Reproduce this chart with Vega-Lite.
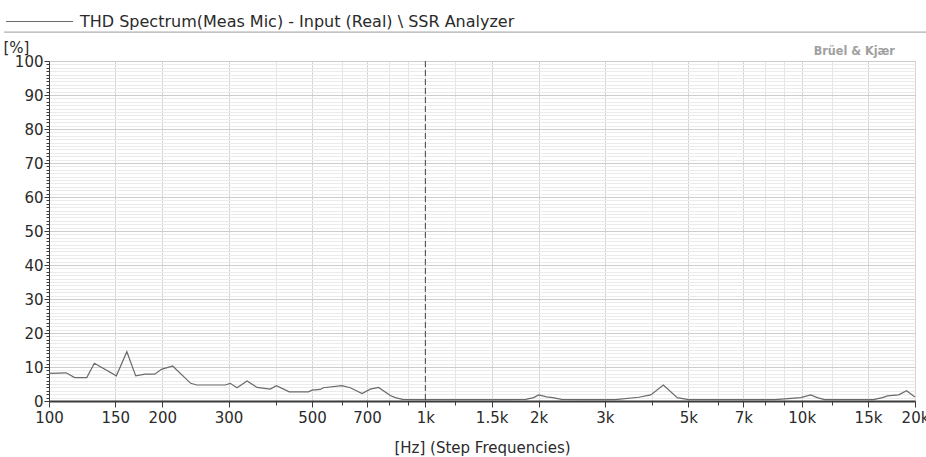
{
  "$schema": "https://vega.github.io/schema/vega-lite/v6.json",
  "width": 866,
  "height": 340,
  "autosize": "none",
  "padding": {"left": 49, "top": 61, "right": 11, "bottom": 56},
  "background": "white",
  "config": {
    "font": "DejaVu Sans",
    "view": {"stroke": "#c4c4c4", "strokeWidth": 1},
    "axis": {"labelFont": "DejaVu Sans", "titleFont": "DejaVu Sans", "labelColor": "#2a2a2a", "titleColor": "#2a2a2a", "labelFontSize": 15, "titleFontSize": 15, "titleFontWeight": "normal", "tickColor": "#3a3a3a", "domainColor": "#3a3a3a"}
  },
  "title": {"text": "Brüel & Kjær", "anchor": "end", "fontSize": 12.5, "fontWeight": "bold", "color": "#a0a0a0", "offset": -70, "dx": -34, "font": "DejaVu Sans Condensed"},
  "datasets": {
    "thd": [
      {"f": 100, "v": 8.1}, {"f": 111, "v": 8.3}, {"f": 117, "v": 6.9}, {"f": 126, "v": 6.9},
      {"f": 132, "v": 11.1}, {"f": 151, "v": 7.4}, {"f": 161, "v": 14.5}, {"f": 170, "v": 7.4},
      {"f": 180, "v": 7.9}, {"f": 191, "v": 7.9}, {"f": 199, "v": 9.3}, {"f": 213, "v": 10.3},
      {"f": 238, "v": 5.2}, {"f": 247, "v": 4.7}, {"f": 294, "v": 4.7}, {"f": 303, "v": 5.2},
      {"f": 316, "v": 3.9}, {"f": 336, "v": 5.9}, {"f": 357, "v": 4.0}, {"f": 387, "v": 3.5},
      {"f": 402, "v": 4.5}, {"f": 435, "v": 2.7}, {"f": 489, "v": 2.7}, {"f": 500, "v": 3.2},
      {"f": 526, "v": 3.4}, {"f": 536, "v": 3.9}, {"f": 600, "v": 4.5}, {"f": 632, "v": 3.9},
      {"f": 679, "v": 2.2}, {"f": 714, "v": 3.5}, {"f": 751, "v": 4.0}, {"f": 807, "v": 1.6},
      {"f": 832, "v": 1.0}, {"f": 870, "v": 0.5}, {"f": 950, "v": 0.4}, {"f": 1100, "v": 0.4},
      {"f": 1300, "v": 0.4}, {"f": 1600, "v": 0.4}, {"f": 1850, "v": 0.5}, {"f": 1940, "v": 1.0},
      {"f": 2000, "v": 1.8}, {"f": 2100, "v": 1.2}, {"f": 2180, "v": 1.0}, {"f": 2300, "v": 0.5},
      {"f": 2700, "v": 0.4}, {"f": 3200, "v": 0.4}, {"f": 3690, "v": 1.1}, {"f": 3970, "v": 1.8},
      {"f": 4290, "v": 4.7}, {"f": 4670, "v": 1.0}, {"f": 5000, "v": 0.4}, {"f": 6000, "v": 0.4},
      {"f": 7000, "v": 0.4}, {"f": 8500, "v": 0.4}, {"f": 9940, "v": 1.0}, {"f": 10570, "v": 1.8},
      {"f": 11000, "v": 1.0}, {"f": 11500, "v": 0.4}, {"f": 13000, "v": 0.4}, {"f": 15500, "v": 0.4},
      {"f": 16390, "v": 1.0}, {"f": 16900, "v": 1.5}, {"f": 18100, "v": 1.8}, {"f": 19000, "v": 3.0},
      {"f": 19860, "v": 1.4}, {"f": 20000, "v": 1.2}
    ],
    "marker": [{"f": 1000}]
  },
  "layer": [
    {
      "data": {"name": "thd"},
      "mark": {"type": "line", "opacity": 0},
      "encoding": {
        "x": {"field": "f", "type": "quantitative", "scale": {"type": "log", "domain": [100, 20000], "nice": false},
          "axis": {"orient": "bottom", "values": [400, 600, 800, 900, 1200, 4000, 6000, 8000, 9000, 12000], "labels": false, "title": null, "domain": false, "tickSize": 4, "grid": true, "gridColor": "#e4e4e4", "tickColor": "#3a3a3a"}},
        "y": {"field": "v", "type": "quantitative", "scale": {"domain": [0, 100], "nice": false},
          "axis": {"orient": "left", "values": [1,2,3,4,5,6,7,8,9,11,12,13,14,15,16,17,18,19,21,22,23,24,25,26,27,28,29,31,32,33,34,35,36,37,38,39,41,42,43,44,45,46,47,48,49,51,52,53,54,55,56,57,58,59,61,62,63,64,65,66,67,68,69,71,72,73,74,75,76,77,78,79,81,82,83,84,85,86,87,88,89,91,92,93,94,95,96,97,98,99], "labels": false, "title": null, "domain": false, "tickSize": 3, "grid": true, "gridColor": "#ebebeb"}}
      }
    },
    {
      "data": {"name": "thd"},
      "mark": {"type": "line", "color": "#6a6a6a", "strokeWidth": 1.2},
      "encoding": {
        "x": {"field": "f", "type": "quantitative", "scale": {"type": "log", "domain": [100, 20000], "nice": false},
          "axis": {"orient": "bottom", "values": [100, 150, 200, 300, 500, 700, 1000, 1500, 2000, 3000, 5000, 7000, 10000, 15000, 20000],
            "labelExpr": "datum.value >= 1000 ? format(datum.value / 1000, '~g') + 'k' : format(datum.value, 'd')",
            "title": "[Hz] (Step Frequencies)", "titlePadding": 15, "tickSize": 6, "labelPadding": 3, "domainWidth": 2, "grid": true, "gridColor": "#d4d4d4", "labelFlush": false, "labelOverlap": false}},
        "y": {"field": "v", "type": "quantitative", "scale": {"domain": [0, 100], "nice": false},
          "axis": {"orient": "left", "values": [0, 10, 20, 30, 40, 50, 60, 70, 80, 90, 100], "tickSize": 5, "labelPadding": 1, "grid": true, "gridColor": "#cdcdcd",
            "title": "[%]", "titleAngle": 0, "titleAlign": "left", "titleBaseline": "bottom", "titleX": -46, "titleY": -6}},
        "color": {"datum": "THD Spectrum(Meas Mic) - Input (Real) \\ SSR Analyzer", "type": "nominal",
          "scale": {"range": ["#6a6a6a"]},
          "legend": {"orient": "none", "legendX": -44, "legendY": -74, "title": null, "symbolType": "stroke", "symbolSize": 4500, "symbolStrokeWidth": 1.2, "labelFontSize": 16, "labelLimit": 700, "labelColor": "#2a2a2a", "labelOffset": 6, "padding": 0, "symbolStrokeColor": "#6a6a6a"}}
      }
    },
    {
      "data": {"name": "marker"},
      "mark": {"type": "rule", "color": "#444444", "strokeDash": [6, 3], "strokeWidth": 1},
      "encoding": {"x": {"field": "f", "type": "quantitative", "axis": null}}
    },
    {
      "data": {"name": "marker"},
      "mark": {"type": "rule", "color": "#9a9a9a", "strokeWidth": 1, "clip": false},
      "encoding": {
        "y": {"datum": 108.5, "type": "quantitative", "axis": null},
        "x": {"datum": 76, "type": "quantitative", "axis": null},
        "x2": {"datum": 21600}
      }
    }
  ],
  "resolve": {"axis": {"x": "independent", "y": "independent"}}
}
